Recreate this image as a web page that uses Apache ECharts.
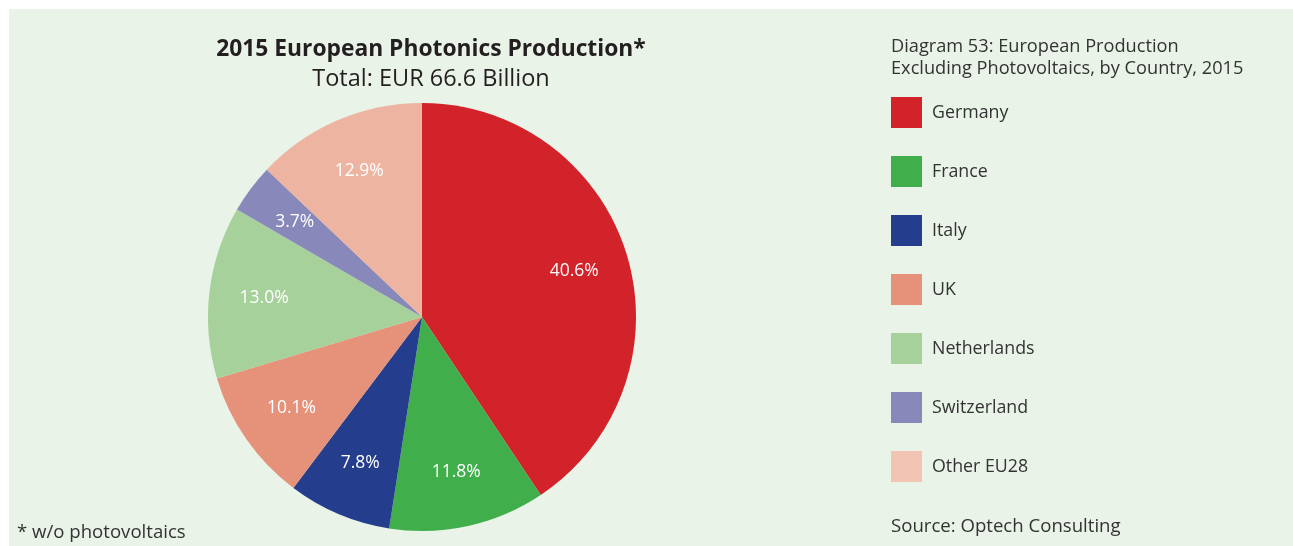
<!DOCTYPE html>
<html>
<head>
<meta charset="utf-8">
<script src="https://cdn.jsdelivr.net/npm/echarts@6/dist/echarts.min.js"></script>
<style>
html,body{margin:0;padding:0;background:#ffffff;}
#chart{width:1293px;height:546px;}
</style>
</head>
<body>
<div id="chart"></div>
<script>
const categories = ['Germany', 'France', 'Italy', 'UK', 'Netherlands', 'Switzerland', 'Other EU28'];
const shares = [40.6, 11.8, 7.8, 10.1, 13.0, 3.7, 12.9];
const sliceColors = ['#d2232a', '#40ae4b', '#253d8d', '#e6927a', '#a6d19b', '#8988ba', '#ecb4a1'];
const legendColors = ['#d2232a', '#40ae4b', '#253d8d', '#e6927a', '#a6d19b', '#8988ba', '#f2c4b4'];

const FONT = '"Open Sans", Lato, sans-serif';
const chart = echarts.init(document.getElementById('chart'), null, {renderer: 'canvas'});

const pieData = categories.map((c, i) => ({
  name: c, value: shares[i], itemStyle: {color: sliceColors[i]}
}));
const labelData = categories.map((c, i) => ({
  name: c, value: shares[i]
}));

chart.setOption({
  backgroundColor: '#ffffff',
  animation: false,
  graphic: [{
    type: 'rect', z: -10, silent: true,
    shape: {x: 9, y: 9, width: 1284, height: 537},
    style: {fill: '#e9f3e7'}
  }],
  title: [
    {
      text: '2015 European Photonics Production*',
      subtext: 'Total: EUR 66.6 Billion',
      left: 426, textAlign: 'center', top: 33, itemGap: 6,
      textStyle: {fontFamily: FONT, fontSize: 22.8, fontWeight: 'bold', color: '#231f20'},
      subtextStyle: {fontFamily: FONT, fontSize: 23.5, fontWeight: 'normal', color: '#231f20'}
    },
    {
      text: 'Diagram 53: European Production\nExcluding Photovoltaics, by Country, 2015',
      left: 886, top: 31,
      textStyle: {fontFamily: FONT, fontSize: 18.2, fontWeight: 'normal', color: '#333333', lineHeight: 22}
    },
    {
      text: 'Source: Optech Consulting',
      left: 886, top: 512,
      textStyle: {fontFamily: FONT, fontSize: 18.6, fontWeight: 'normal', color: '#333333'}
    },
    {
      text: '* w/o photovoltaics',
      left: 12, top: 518,
      textStyle: {fontFamily: FONT, fontSize: 18.6, fontWeight: 'normal', color: '#333333'}
    }
  ],
  legend: {
    orient: 'vertical',
    left: 891, top: 97, padding: 0,
    itemWidth: 31, itemHeight: 31, itemGap: 28,
    icon: 'rect',
    data: categories.map((c, i) => ({name: c, itemStyle: {color: legendColors[i]}})),
    textStyle: {fontFamily: FONT, fontSize: 17.8, color: '#333333', padding: [0, 0, 0, 5]}
  },
  series: [
    {
      type: 'pie',
      center: [422, 317],
      radius: [0, 214],
      startAngle: 90,
      clockwise: true,
      label: {show: false},
      labelLine: {show: false},
      emphasis: {disabled: true},
      itemStyle: {borderWidth: 0},
      data: pieData
    },
    {
      type: 'pie',
      center: [422, 317],
      radius: [100, 212],
      startAngle: 90,
      clockwise: true,
      silent: true,
      legendHoverLink: false,
      itemStyle: {color: 'transparent'},
      label: {
        show: true, position: 'inside',
        formatter: p => p.value.toFixed(1) + '%',
        color: '#ffffff', fontFamily: FONT, fontSize: 17.5, fontWeight: 'normal'
      },
      labelLine: {show: false},
      emphasis: {disabled: true},
      data: labelData
    }
  ]
});
</script>
</body>
</html>
